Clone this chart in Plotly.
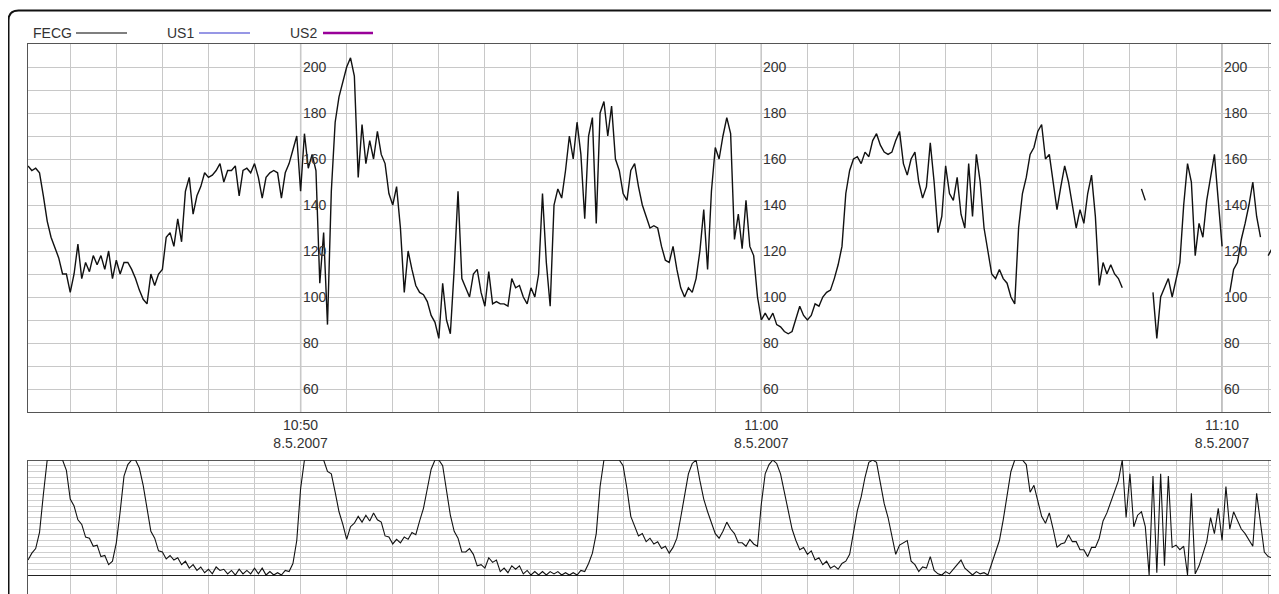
import datetime as dt
import plotly.graph_objects as go

# ---------------- data ----------------
START = dt.datetime(2007, 5, 8, 10, 44, 5)
STEP_S = 5  # sample interval (s)

fhr = [
    157, 155, 156, 154, 144, 133, 126, 121, 117, 110,
    110, 102, 110, 123, 108, 115, 111, 118, 114, 118,
    112, 120, 108, 116, 110, 115, 115, 112, 108, 103,
    99, 97, 110, 105, 110, 112, 126, 128, 122, 134,
    124, 146, 152, 136, 144, 148, 154, 152, 153, 155,
    158, 150, 155, 155, 157, 144, 155, 156, 154, 158,
    152, 143, 152, 154, 155, 154, 143, 154, 158, 164,
    170, 146, 171, 156, 162, 155, 106, 128, 88, 146,
    176, 187,
    193, 200, 204, 196, 152, 175, 158, 168, 160, 172,
    162, 158, 145, 140, 148, 130, 102, 120, 112, 105,
    102, 101, 98, 92, 89, 82, 106, 90, 84, 112,
    146, 108, 104, 100, 110, 112, 102, 96, 111, 97,
    98, 97, 97, 96, 108, 104, 105, 100, 97, 104,
    100, 110, 145, 115, 96, 140, 147, 143, 155, 170,
    160, 176, 162, 134, 170, 178, 132, 180, 185, 170,
    183, 160, 155, 145, 142, 155, 158, 148, 140, 135,
    130,
    131, 130, 122, 116, 115, 122, 112, 104, 100, 104,
    102, 108, 120, 138, 112, 146, 165, 160, 170, 178,
    171, 125, 136, 121, 142, 122, 118, 100, 90, 93,
    90, 93, 88, 87, 85, 84, 85, 90, 96, 92,
    90, 92, 97, 96, 100, 102, 103, 108, 114, 122,
    145, 155, 160, 161, 158, 163, 161, 168, 171, 166,
    163, 162, 163, 168, 172, 158, 153, 160, 163, 150,
    143, 148, 167, 150, 128, 135, 157, 145, 142, 152,
    136,
    130, 158, 135, 162, 150, 130, 120, 110, 108, 112,
    108, 106, 100, 97, 130, 145, 152, 162, 165, 172,
    175, 160, 162, 150, 138, 148, 157, 150, 140, 130,
    138, 132, 145, 153, 135, 105, 115, 110, 114, 110,
    108, 104, None, None, None, None, 147, 142, None, 102,
    82, 100, 104, 108, 100, 108, 115, 140, 158, 150,
    118, 132, 126, 142, 152, 162, 142, 122, None, 102,
    112, 115, 125, 132, 140, 150, 135, 126, None, 118,
    121,
]

uc = [
    13, 19, 23, 37, 70, 100, 100, 100, 100, 100,
    91, 66, 60, 48, 44, 33, 32, 25, 26, 16,
    17, 9, 12, 28, 55, 86, 96, 100, 100, 93,
    78, 59, 38, 32, 21, 20, 14, 17, 13, 15,
    9, 12, 6, 9, 4, 7, 2, 5, 1, 7,
    4, 5, 1, 4, 0, 5, 1, 4, 1, 6,
    1, 6, 0, 3, 0, 2, 0, 4, 3, 10,
    30, 75, 100, 100, 100, 100, 100, 100, 90, 88,
    72, 55, 44, 31, 42, 45, 51, 46, 52, 47,
    54, 48, 46, 34, 33, 27, 31, 28, 33, 31,
    37, 35, 47, 58, 75, 92, 100, 100, 95, 72,
    52, 38, 32, 20, 20, 23, 18, 8, 9, 6,
    15, 11, 13, 3, 6, 2, 8, 5, 8, 1,
    4, 0, 3, 0, 3, 0, 3, 1, 3, 0,
    2, 0, 2, 0, 4, 3, 10, 19, 36, 77,
    100, 100, 100, 100, 100, 95, 75, 51, 42, 34,
    36, 29, 32, 27, 29, 23, 25, 19, 24, 32,
    50, 70, 88, 97, 100, 82, 66, 55, 46, 36,
    32, 38, 46, 40, 36, 28, 28, 25, 31, 27,
    25, 62, 88, 96, 100, 97, 88, 72, 56, 40,
    30, 22, 24, 18, 21, 13, 15, 9, 12, 6,
    8, 5, 10, 12, 18, 36, 56, 68, 85, 98,
    100, 98, 80, 62, 50, 34, 18, 26, 28, 30,
    12, 9, 3, 7, 6, 16, 4, 1, 0, 3,
    1, 5, 8, 13, 6, 3, 0, 3, 1, 2,
    0, 10, 20, 30, 48, 68, 90, 100, 100, 100,
    96, 72, 78, 65, 51, 45, 54, 40, 24, 27,
    28, 35, 29, 29, 22, 22, 16, 24, 24, 32,
    47, 54, 64, 74, 82, 100, 50, 88, 42, 52,
    55, 42, 0, 86, 2, 88, 8, 86, 24, 26,
    22, 25, 0, 71, 1, 8, 18, 29, 50, 36,
    58, 30, 77, 40, 55, 47, 40, 36, 30, 25,
    71, 45, 20, 16, 15,
]

major_labels = ["10:50", "11:00", "11:10"]
date_label = "8.5.2007"
fhr_labels = [60, 80, 100, 120, 140, 160, 180, 200]
legend_names = ["FECG", "US1", "US2"]
legend_colors = ["#000000", "#7474dc", "#990099"]

# ---------------- derived ----------------
times = [START + dt.timedelta(seconds=STEP_S * i) for i in range(len(fhr))]
x_end = START + dt.timedelta(seconds=STEP_S * (len(fhr) - 1))
minute_ticks = [dt.datetime(2007, 5, 8, 10, 45) + dt.timedelta(minutes=m) for m in range(27)]
major_times = [dt.datetime(2007, 5, 8, int(s[:2]), int(s[3:])) for s in major_labels]
ticktext = [f"{t:%H:%M}<br>{date_label}" if t in major_times else "" for t in minute_ticks]

# The page body has an 8px margin; work in screen pixels and convert.
OFF = 8
SW, SH = 1279, 594               # screen size
W, H = SW - OFF, SH - OFF        # figure size
PLOT_L, PLOT_R, PLOT_T = 28, 1272, 44   # screen pixels of plotting area
ML, MR, MT, MB = PLOT_L - OFF, (W + OFF) - PLOT_R, PLOT_T - OFF, 0
PW, PH = W - ML - MR, H - MT - MB


def px(xs):
    return (xs - PLOT_L) / PW


def py(ys):
    return (SH - ys) / PH


FONT = "Liberation Sans, Arial, sans-serif"
GRID = "#c8c8c8"

fig = go.Figure()
fig.add_trace(go.Scatter(x=times, y=fhr, mode="lines", line=dict(color="#111", width=1.4),
                         xaxis="x", yaxis="y", hoverinfo="skip", showlegend=False))
fig.add_trace(go.Scatter(x=times, y=uc, mode="lines", line=dict(color="#111", width=1.1),
                         xaxis="x2", yaxis="y2", hoverinfo="skip", showlegend=False))

shapes = []
for t in major_times:
    shapes.append(dict(type="line", xref="x", yref="y", x0=t, x1=t, y0=50, y1=210,
                       line=dict(color="#8f8f8f", width=1.3), layer="below"))
# top border of the contraction panel
shapes.append(dict(type="line", xref="paper", yref="y2", x0=0, x1=1, y0=100, y1=100,
                   line=dict(color="#222", width=1.4)))
# legend lines
leg_text_x = [33, 167, 290]
leg_line_x = [(76, 127), (199, 250), (323, 373)]
leg_widths = [1.2, 1.3, 2.6]
for (a, b), c, w in zip(leg_line_x, legend_colors, leg_widths):
    shapes.append(dict(type="line", xref="paper", yref="paper", x0=px(a), x1=px(b),
                       y0=py(33), y1=py(33), line=dict(color=c, width=w)))
# outer rounded frame
fl, ft, r = 8.5, 10.5, 10
path = (f"M {px(fl)},{py(SH + 20)} L {px(fl)},{py(ft + r)} "
        f"Q {px(fl)},{py(ft)} {px(fl + r)},{py(ft)} L {px(SW + 30)},{py(ft)}")
shapes.append(dict(type="path", xref="paper", yref="paper", path=path,
                   line=dict(color="#111", width=2)))

annotations = []
for t in major_times:
    for v in fhr_labels:
        annotations.append(dict(x=t, y=v, xref="x", yref="y", text=str(v), showarrow=False,
                                xanchor="left", yanchor="middle", xshift=0,
                                font=dict(family=FONT, size=14, color="#333")))
for name, xl in zip(legend_names, leg_text_x):
    annotations.append(dict(x=px(xl), y=py(33), xref="paper", yref="paper", text=name,
                            showarrow=False, xanchor="left", yanchor="middle", borderpad=0,
                            xshift=-1, font=dict(family=FONT, size=14, color="#333")))

fig.update_layout(
    width=W, height=H,
    margin=dict(l=ML, r=MR, t=MT, b=MB),
    paper_bgcolor="white", plot_bgcolor="white",
    font=dict(family=FONT, size=14, color="#333"),
    showlegend=False,
    xaxis=dict(domain=[0, 1], anchor="y", range=[START, x_end], type="date",
               tickvals=minute_ticks, ticktext=ticktext, showgrid=True, gridcolor=GRID,
               gridwidth=1, ticks="", showline=True, mirror=True, linecolor="#555",
               linewidth=1, tickfont=dict(family=FONT, size=14, color="#333"),
               zeroline=False),
    yaxis=dict(domain=[py(412), 1], anchor="x", range=[50, 210],
               tickvals=list(range(50, 211, 10)), showticklabels=False, showgrid=True,
               gridcolor=GRID, gridwidth=1, ticks="", showline=True, mirror=True,
               linecolor="#555", linewidth=1, zeroline=False),
    xaxis2=dict(domain=[0, 1], anchor="y2", range=[START, x_end], type="date",
                tickvals=minute_ticks, showticklabels=False, showgrid=True, gridcolor=GRID,
                gridwidth=1, ticks="", showline=False, zeroline=False),
    yaxis2=dict(domain=[0, py(460)], anchor="x2", range=[-16.5, 100],
                tickvals=list(range(0, 101, 5)), showticklabels=False, showgrid=True,
                gridcolor="#cfcfcf", gridwidth=1, ticks="", showline=True,
                linecolor="#555", linewidth=1, zeroline=True, zerolinecolor="#222",
                zerolinewidth=1.4),
    shapes=shapes,
    annotations=annotations,
)

fig.write_html("out.html")
